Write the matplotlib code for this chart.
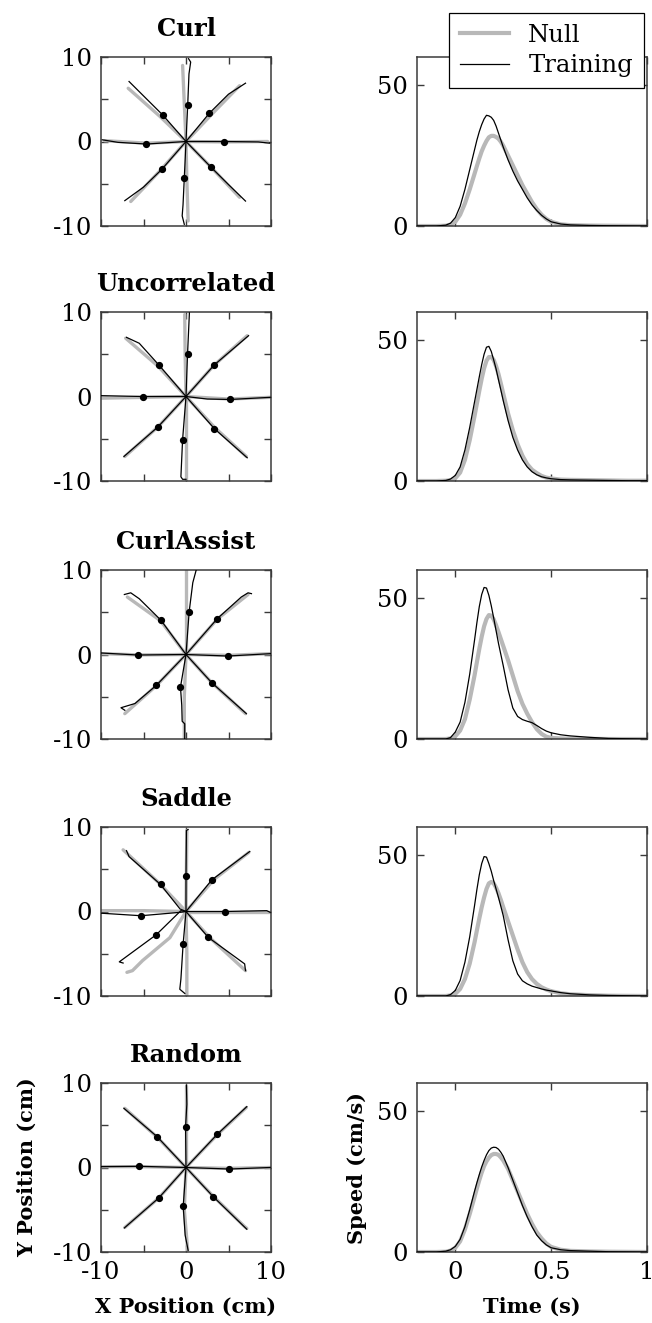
import matplotlib
matplotlib.use("Agg")
import matplotlib.pyplot as plt

plt.rcParams['font.family'] = ['DejaVu Serif']

# ---- data ----
conditions = ["Curl", "Uncorrelated", "CurlAssist", "Saddle", "Random"]

# hand paths, one list of (x, y) points per target direction (cm)
curl_null = [
    [(0, 0), (-0.2, 4.5), (-0.4, 9.0)],
    [(0, 0), (0.1, -4.5), (0.25, -9.4)],
    [(0, 0), (4.5, -0.05), (9.6, 0)],
    [(0, 0), (-4.6, -0.2), (-9.6, 0.1)],
    [(0, 0), (3.2, 3.4), (6.3, 6.6)],
    [(0, 0), (-3.1, 3.0), (-6.8, 6.3)],
    [(0, 0), (-3.0, -3.4), (-6.5, -7.1)],
    [(0, 0), (3.0, -3.1), (6.3, -6.6)],
]
curl_training = [
    [(0, 0), (0.2, 4.3), (0.35, 8.0), (0.55, 9.4), (0.3, 9.8)],
    [(0, 0), (-0.2, -4.3), (-0.35, -7.5), (-0.45, -8.8), (-0.2, -9.8)],
    [(0, 0), (4.5, 0), (8.5, -0.05), (9.85, -0.2)],
    [(0, 0), (-4.65, -0.3), (-8, -0.1), (-9.85, 0.2)],
    [(0, 0), (2.75, 3.35), (5, 5.6), (7.0, 6.9)],
    [(0, 0), (-2.75, 3.15), (-5, 5.4), (-6.7, 7.1)],
    [(0, 0), (-2.85, -3.3), (-5, -5.4), (-7.2, -7.0)],
    [(0, 0), (2.9, -3.0), (5, -5.1), (7.0, -7.05)],
]
curl_dots = [(0.2, 4.3), (-0.2, -4.3), (4.5, 0), (-4.65, -0.3),
             (2.75, 3.35), (-2.75, 3.15), (-2.85, -3.3), (2.9, -3.0)]

uncorr_null = [
    [(0, 0), (-0.1, 5), (-0.15, 9.7)],
    [(0, 0), (0, -5), (0, -9.8)],
    [(0, 0), (5, -0.3), (9.9, -0.1)],
    [(0, 0), (-5, -0.1), (-10, -0.2)],
    [(0, 0), (3.3, 3.7), (7.2, 7.2)],
    [(0, 0), (-3.3, 3.6), (-7.1, 6.9)],
    [(0, 0), (-3.3, -3.6), (-7.2, -7.1)],
    [(0, 0), (3.4, -3.7), (7.1, -7.1)],
]
uncorr_training = [
    [(0, 0), (0.18, 5.0), (0.4, 9.9)],
    [(0, 0), (-0.4, -5.1), (-0.6, -9.5), (-0.4, -9.8), (0, -9.8)],
    [(0, 0), (2.5, -0.3), (5.2, -0.35), (9.9, -0.1)],
    [(0, 0), (-5.07, 0), (-10, 0.1)],
    [(0, 0), (3.33, 3.74), (7.36, 7.2)],
    [(0, 0), (-3.2, 3.74), (-5.5, 6.3), (-7.0, 7.0)],
    [(0, 0), (-3.3, -3.6), (-7.3, -7.1)],
    [(0, 0), (3.33, -3.8), (7.2, -7.25)],
]
uncorr_dots = [(0.18, 5.0), (-0.4, -5.1), (5.2, -0.35), (-5.07, 0),
               (3.33, 3.74), (-3.2, 3.74), (-3.3, -3.6), (3.33, -3.8)]

assist_null = [
    [(0, 0), (0, 5), (0, 10)],
    [(0, 0), (-0.2, -5), (-0.2, -10)],
    [(0, 0), (5, -0.1), (9.9, 0.1)],
    [(0, 0), (-5.5, -0.05), (-9.9, 0.1)],
    [(0, 0), (3.7, 4.2), (7.3, 7.1)],
    [(0, 0), (-3.0, 4.0), (-6.9, 6.8)],
    [(0, 0), (-3.5, -3.7), (-7.2, -7.0)],
    [(0, 0), (3.0, -3.3), (7.0, -7.0)],
]
assist_training = [
    [(0, 0), (0.37, 5.05), (0.8, 8.5), (1.2, 10)],
    [(0, 0), (-0.65, -3.86), (-0.5, -6), (-0.45, -7.9), (-0.15, -8.2), (-0.15, -10)],
    [(0, 0), (4.93, -0.18), (9.96, 0.1)],
    [(0, 0), (-5.66, -0.06), (-10, 0.18)],
    [(0, 0), (3.7, 4.26), (6.5, 6.8), (7.3, 7.3), (7.7, 7.2)],
    [(0, 0), (-2.95, 4.06), (-5.5, 6.6), (-6.5, 7.3), (-7.25, 7.1)],
    [(0, 0), (-3.5, -3.66), (-6, -5.8), (-7.65, -6.3), (-7.2, -6.6)],
    [(0, 0), (3.04, -3.35), (7.1, -7.0)],
]
assist_dots = [(0.37, 5.05), (-0.65, -3.86), (4.93, -0.18), (-5.66, -0.06),
               (3.7, 4.26), (-2.95, 4.06), (-3.5, -3.66), (3.04, -3.35)]

saddle_null = [
    [(0, 0), (0.05, 5), (0.1, 9.6)],
    [(0, 0), (0.1, -5), (0.1, -10)],
    [(0, 0), (5, 0), (9.8, 0)],
    [(0, 0), (-5, 0.1), (-10, 0.1)],
    [(0, 0), (3.3, 3.8), (7.4, 7.0)],
    [(0, 0), (-3.2, 3.4), (-7.4, 7.3)],
    [(0, 0), (-1.9, -3.1), (-5.1, -5.8), (-6.3, -7.0), (-6.95, -7.2)],
    [(0, 0), (2.8, -3.1), (7.0, -7.0)],
]
saddle_training = [
    [(0, 0), (0, 4.2), (0.05, 9.6), (0.25, 9.7)],
    [(0, 0), (-0.34, -3.86), (-0.6, -8), (-0.73, -9.2), (-0.14, -9.7)],
    [(0, 0), (4.6, 0), (9.5, 0.1), (9.9, -0.1)],
    [(0, 0), (-0.7, -0.1), (-5.3, -0.5), (-10, -0.2)],
    [(0, 0), (3.04, 3.74), (7.5, 7.1)],
    [(0, 0), (-0.7, 0.3), (-3.0, 3.2), (-6.7, 6.5), (-7.0, 7.2)],
    [(0, 0), (-0.6, 0.1), (-3.5, -2.75), (-7.85, -5.96), (-7.4, -6.1)],
    [(0, 0), (2.63, -3.07), (6.9, -6.2), (7.0, -7.0)],
]
saddle_dots = [(0, 4.2), (-0.34, -3.86), (4.6, 0), (-5.3, -0.5),
               (3.04, 3.74), (-3.0, 3.2), (-3.5, -2.75), (2.63, -3.07)]

random_null = [
    [(0, 0), (0, 5), (0, 9.7)],
    [(0, 0), (-0.2, -5), (0.2, -9.8)],
    [(0, 0), (5, -0.1), (9.9, 0)],
    [(0, 0), (-5.5, 0.1), (-10, 0.1)],
    [(0, 0), (3.7, 3.9), (7.1, 7.1)],
    [(0, 0), (-3.4, 3.6), (-7.2, 7.0)],
    [(0, 0), (-3.2, -3.6), (-7.2, -7.1)],
    [(0, 0), (3.2, -3.4), (6.9, -7.0), (7.15, -7.2)],
]
random_training = [
    [(0, 0), (-0.05, 4.8), (0.1, 7.5), (0.05, 9.7)],
    [(0, 0), (-0.33, -4.6), (-0.1, -8), (0.25, -9.8)],
    [(0, 0), (5.07, -0.18), (9.9, 0)],
    [(0, 0), (-5.5, 0.14), (-10, 0.1)],
    [(0, 0), (3.7, 3.95), (7.15, 7.2)],
    [(0, 0), (-3.4, 3.65), (-7.3, 7.0)],
    [(0, 0), (-3.2, -3.6), (-7.25, -7.15)],
    [(0, 0), (3.2, -3.45), (7.15, -7.3)],
]
random_dots = [(-0.05, 4.8), (-0.33, -4.6), (5.07, -0.18), (-5.5, 0.14),
               (3.7, 3.95), (-3.4, 3.65), (-3.2, -3.6), (3.2, -3.45)]

# speed profiles (cm/s) at these times (s)
time = [-0.2, -0.1, -0.05, -0.025, 0, 0.025, 0.05, 0.075, 0.1, 0.1125, 0.125, 0.1375,
        0.15, 0.1625, 0.175, 0.1875, 0.2, 0.2125, 0.225, 0.2375, 0.25, 0.275, 0.3,
        0.325, 0.35, 0.375, 0.4, 0.425, 0.45, 0.475, 0.5, 0.55, 0.6, 0.7, 0.8, 0.9, 1.0]

curl_speed_null = [0, 0, 0.1, 0.5, 1.5, 4, 8, 13, 18.5, 21.3, 24, 26.5,
                   28.5, 30.2, 31.5, 32, 32, 31.6, 31, 29.9, 28.5, 25, 21.5,
                   18, 14.5, 11.5, 8.5, 6, 4, 2.5, 1.5, 0.6, 0.3, 0.15, 0.1, 0.05, 0]
curl_speed_training = [0, 0, 0.3, 1.0, 3, 7, 13, 20, 27, 30.5, 33.5, 36,
                       38, 39.3, 39.1, 38.6, 37.5, 35.5, 33, 30.5, 28, 23.5, 19.5,
                       16, 13, 10, 7.5, 5.5, 3.8, 2.5, 1.5, 0.7, 0.4, 0.2, 0.1, 0.05, 0]
uncorr_speed_null = [0, 0, 0.1, 0.3, 1, 3, 7.5, 14.5, 23, 27.5, 32, 36.3,
                     40, 42.7, 44, 44, 43, 40.8, 38, 34.6, 31, 24, 18,
                     13, 9, 6, 4, 2.8, 1.8, 1.2, 0.9, 0.5, 0.4, 0.3, 0.2, 0.1, 0.1]
uncorr_speed_training = [0, 0, 0.2, 0.7, 2, 5, 11, 19, 28, 32.5, 37, 41.3,
                         45, 47.5, 47.8, 46, 43, 39.8, 36, 32.3, 28.5, 21.5, 15.5,
                         11, 7.5, 5, 3.3, 2.2, 1.5, 1.1, 0.8, 0.5, 0.4, 0.3, 0.2, 0.1, 0.1]
assist_speed_null = [0, 0, 0, 0.2, 1, 3, 7, 14, 22.5, 27.3, 32, 36.3,
                     40, 42.6, 44, 43.8, 42.5, 40.4, 38, 35.5, 33, 28, 22.5,
                     17, 12.5, 9, 6, 3.5, 1.8, 0.8, 0.4, 0.2, 0.1, 0.05, 0, 0, 0]
assist_speed_training = [0, 0, 0, 0.5, 2.5, 6, 13, 23, 35, 41.3, 47, 51.3,
                         53.8, 53.6, 51, 47.3, 43, 38.5, 34, 30, 26, 17.5, 11,
                         8, 6.9, 6.3, 5.8, 4.8, 3.7, 2.8, 2.2, 1.5, 1.1, 0.6, 0.2, 0.1, 0]
saddle_speed_null = [0, 0, 0, 0.2, 0.8, 2.5, 6, 11.5, 19, 23.3, 27.5, 31.5,
                     35, 38, 40, 40.5, 40, 38.5, 36.5, 34.1, 31.5, 26.5, 21.5,
                     16.5, 12, 8.5, 6, 4.3, 3.1, 2.3, 1.7, 1, 0.6, 0.3, 0.1, 0.05, 0]
saddle_speed_training = [0, 0, 0, 0.5, 2, 5.5, 12, 21, 32, 37.8, 43, 47,
                         49.5, 49.3, 47, 44.3, 41, 38, 35, 31.8, 28.5, 20, 12.5,
                         7.8, 5.4, 4.3, 3.5, 3, 2.5, 2.1, 1.8, 1.2, 0.8, 0.4, 0.2, 0.1, 0]
random_speed_null = [0, 0, 0.1, 0.5, 1.5, 3.8, 8, 13.5, 19.5, 22.6, 25.5, 28.2,
                     30.5, 32.2, 33.5, 34.4, 34.8, 34.8, 34.5, 33.6, 32.5, 29.5, 25.5,
                     21.5, 17.5, 13.5, 10, 7, 4.8, 3, 1.8, 0.8, 0.4, 0.2, 0.1, 0.05, 0]
random_speed_training = [0, 0, 0.3, 0.8, 2, 4.5, 9, 15, 21.5, 24.6, 27.5, 30.2,
                         32.5, 34.5, 36, 36.9, 37.2, 37.1, 36.5, 35.4, 34, 30, 25.5,
                         21, 16.5, 12.5, 9, 6, 4, 2.5, 1.5, 0.8, 0.5, 0.3, 0.1, 0.05, 0]

null_paths = [curl_null, uncorr_null, assist_null, saddle_null, random_null]
training_paths = [curl_training, uncorr_training, assist_training, saddle_training, random_training]
mid_dots = [curl_dots, uncorr_dots, assist_dots, saddle_dots, random_dots]
null_speeds = [curl_speed_null, uncorr_speed_null, assist_speed_null, saddle_speed_null, random_speed_null]
training_speeds = [curl_speed_training, uncorr_speed_training, assist_speed_training,
                   saddle_speed_training, random_speed_training]

GRAY = "#b8b8b8"
SPINE = "#3a3a3a"
FS = 17.5

W, H = 652, 1323
fig = plt.figure(figsize=(W / 100, H / 100), dpi=100)
row_tops = [57, 312, 570, 827, 1083]
panel_h = 169


def style_axes(ax):
    for s in ax.spines.values():
        s.set_color(SPINE)
        s.set_linewidth(1.1)
    ax.tick_params(direction="in", top=True, right=True, length=5, width=1.0,
                   color=SPINE, labelsize=FS, pad=6.5)


for i, name in enumerate(conditions):
    bottom = 1 - (row_tops[i] + panel_h) / H
    last = i == len(conditions) - 1

    # left: hand paths
    ax = fig.add_axes([101 / W, bottom, 170 / W, panel_h / H])
    for path in null_paths[i]:
        xs, ys = zip(*path)
        ax.plot(xs, ys, color=GRAY, lw=2.4, solid_capstyle="round", zorder=2)
    for path in training_paths[i]:
        xs, ys = zip(*path)
        ax.plot(xs, ys, color="black", lw=0.9, zorder=3)
    dx, dy = zip(*mid_dots[i])
    ax.plot(dx, dy, "o", color="black", ms=4.2, zorder=4)
    ax.set_xlim(-10, 10)
    ax.set_ylim(-10, 10)
    ax.set_xticks([-10, -5, 0, 5, 10])
    ax.set_yticks([-10, -5, 0, 5, 10])
    ax.set_yticklabels(["-10", "", "0", "", "10"])
    if last:
        ax.set_xticklabels(["-10", "", "0", "", "10"])
        ax.set_xlabel("X Position (cm)", fontsize=15, fontweight="bold", labelpad=9)
        ax.set_ylabel("Y Position (cm)", fontsize=15, fontweight="bold", labelpad=11)
    else:
        ax.set_xticklabels([])
    ax.set_title(name, fontsize=FS, fontweight="bold", pad=15)
    style_axes(ax)

    # right: speed profiles
    ax2 = fig.add_axes([417 / W, bottom, 230 / W, panel_h / H])
    ax2.plot(time, null_speeds[i], color=GRAY, lw=3.0, label="Null", zorder=2)
    ax2.plot(time, training_speeds[i], color="black", lw=0.9, label="Training", zorder=3)
    ax2.set_xlim(-0.2, 1.0)
    ax2.set_ylim(0, 60)
    ax2.set_xticks([0, 0.5, 1])
    ax2.set_yticks([0, 50])
    if last:
        ax2.set_xticklabels(["0", "0.5", "1"])
        ax2.set_xlabel("Time (s)", fontsize=15, fontweight="bold", labelpad=9)
        ax2.set_ylabel("Speed (cm/s)", fontsize=15, fontweight="bold", labelpad=7)
    else:
        ax2.set_xticklabels([])
    style_axes(ax2)
    if i == 0:
        leg = ax2.legend(loc="upper right", bbox_to_anchor=(644 / W, 1 - 13 / H),
                         bbox_transform=fig.transFigure, borderaxespad=0,
                         fontsize=FS, fancybox=False, framealpha=1,
                         edgecolor="black", handlelength=2.0, handletextpad=0.8,
                         borderpad=0.45, labelspacing=0.3)
        leg.get_frame().set_linewidth(0.9)
        leg.set_zorder(10)

fig.savefig("out.png", dpi=100)
